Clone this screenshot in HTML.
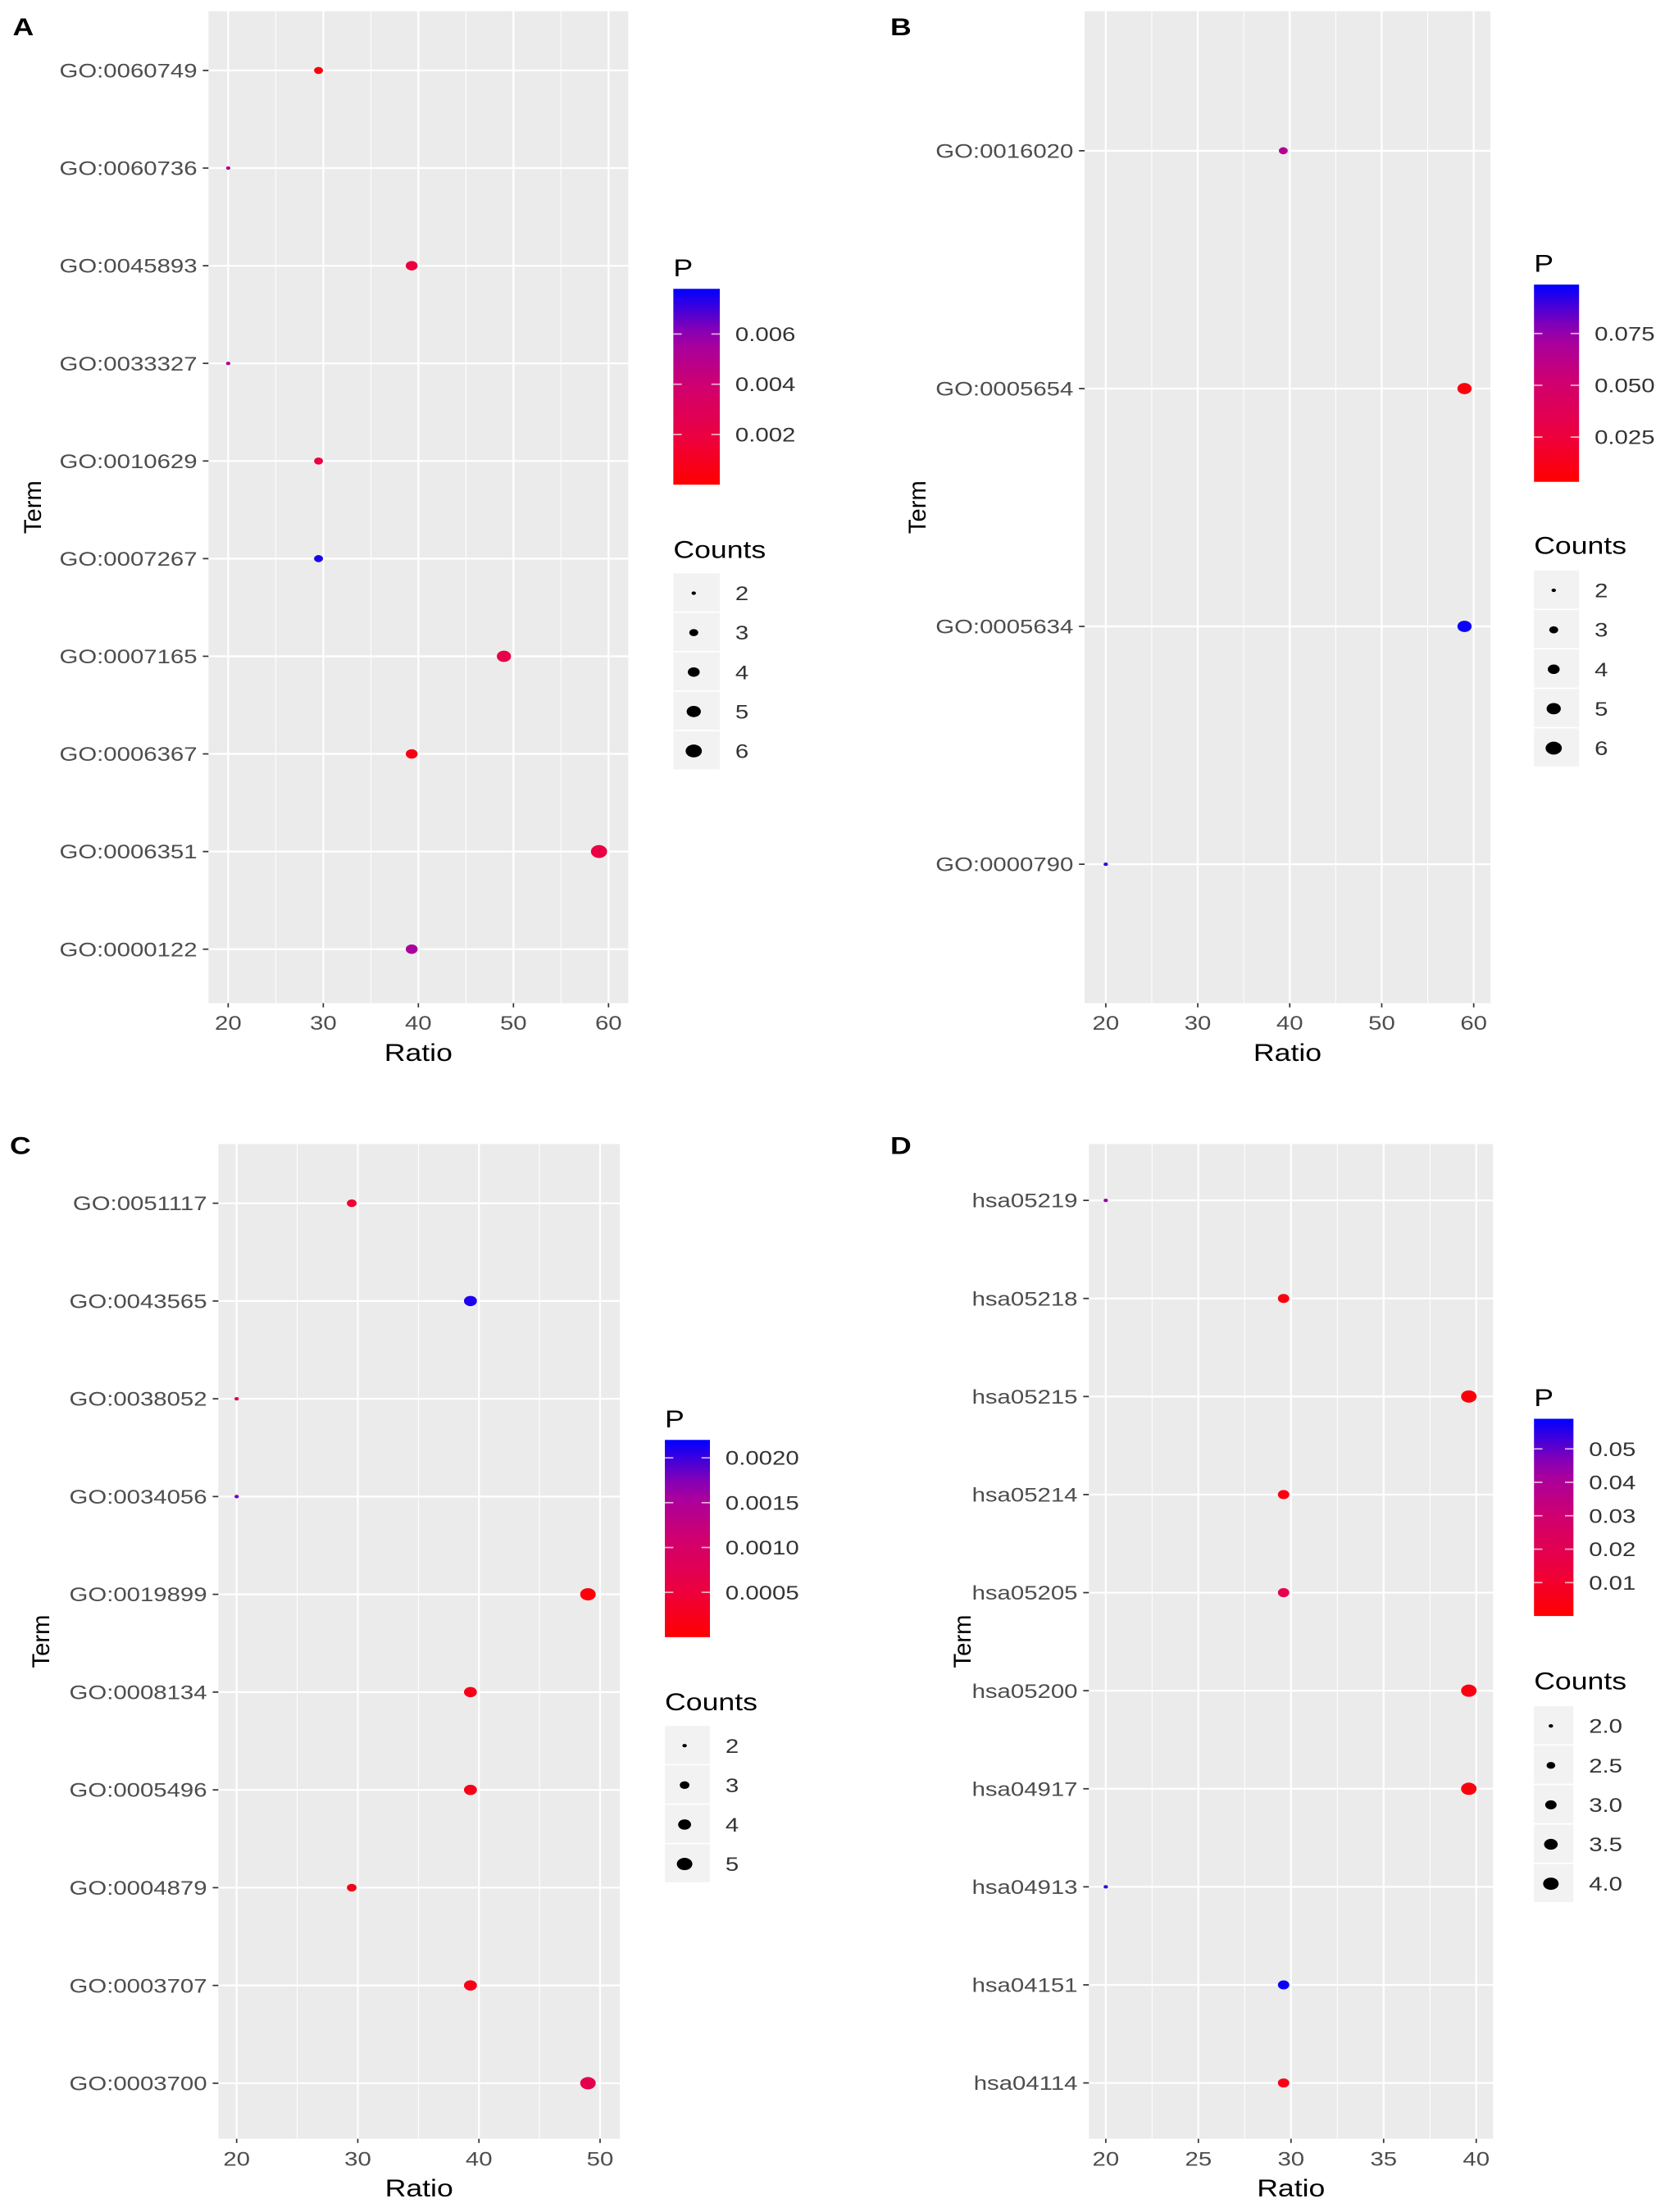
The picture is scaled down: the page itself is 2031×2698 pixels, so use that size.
<!DOCTYPE html>
<html><head><meta charset="utf-8">
<style>
html,body{margin:0;padding:0;background:#fff;}
svg{display:block;}
text{font-family:"Liberation Sans",Arial,sans-serif;}
</style></head>
<body>
<svg id="fig" width="2031" height="2698" viewBox="0 0 1182 1570" preserveAspectRatio="none" xmlns="http://www.w3.org/2000/svg"></svg>
<script>
// ---- Panel A data ----
const termsA = ["GO:0060749","GO:0060736","GO:0045893","GO:0033327","GO:0010629","GO:0007267","GO:0007165","GO:0006367","GO:0006351","GO:0000122"];
const ratioA = [29.5,20,39.3,20,29.5,29.5,49,39.3,59,39.3];
const countA = [3,2,4,2,3,3,5,4,6,4];
const pA = [0.0004,0.0050,0.0018,0.0052,0.0020,0.0075,0.0022,0.0006,0.0020,0.0055];
const xTicksA = [20,30,40,50,60];
const pTicksA = [0.002,0.004,0.006];
const pTickLabelsA = ["0.002","0.004","0.006"];
const countKeysA = [2,3,4,5,6];
const countKeyLabelsA = ["2","3","4","5","6"];
// ---- Panel B data ----
const termsB = ["GO:0016020","GO:0005654","GO:0005634","GO:0000790"];
const ratioB = [39.3,59,59,20];
const countB = [3,5,5,2];
const pB = [0.065,0.008,0.097,0.090];
const xTicksB = [20,30,40,50,60];
const pTicksB = [0.025,0.050,0.075];
const pTickLabelsB = ["0.025","0.050","0.075"];
const countKeysB = [2,3,4,5,6];
const countKeyLabelsB = ["2","3","4","5","6"];
// ---- Panel C data ----
const termsC = ["GO:0051117","GO:0043565","GO:0038052","GO:0034056","GO:0019899","GO:0008134","GO:0005496","GO:0004879","GO:0003707","GO:0003700"];
const ratioC = [29.5,39.3,20,20,49,39.3,39.3,29.5,39.3,49];
const countC = [3,4,2,2,5,4,4,3,4,5];
const pC = [0.0004,0.0021,0.0009,0.0018,0.0001,0.0002,0.0002,0.0002,0.0002,0.0007];
const xTicksC = [20,30,40,50];
const pTicksC = [0.0005,0.0010,0.0015,0.0020];
const pTickLabelsC = ["0.0005","0.0010","0.0015","0.0020"];
const countKeysC = [2,3,4,5];
const countKeyLabelsC = ["2","3","4","5"];
// ---- Panel D data ----
const termsD = ["hsa05219","hsa05218","hsa05215","hsa05214","hsa05205","hsa05200","hsa04917","hsa04913","hsa04151","hsa04114"];
const ratioD = [20,29.6,39.6,29.6,29.6,39.6,39.6,20,29.6,29.6];
const countD = [2,3,4,3,3,4,4,2,3,3];
const pD = [0.045,0.003,0.002,0.003,0.018,0.004,0.003,0.054,0.058,0.005];
const xTicksD = [20,25,30,35,40];
const pTicksD = [0.01,0.02,0.03,0.04,0.05];
const pTickLabelsD = ["0.01","0.02","0.03","0.04","0.05"];
const countKeysD = [2,2.5,3,3.5,4];
const countKeyLabelsD = ["2.0","2.5","3.0","3.5","4.0"];

const NS = "http://www.w3.org/2000/svg";
const svg = document.getElementById("fig");
const SX = 1.22;
function el(tag, attrs, parent){
  const e = document.createElementNS(NS, tag);
  for (const k in attrs) e.setAttribute(k, attrs[k]);
  if (tag === "text" && !attrs.transform) {
    const x = attrs.x;
    e.setAttribute("transform", "translate(" + x + ",0) scale(" + SX + ",1) translate(" + (-x) + ",0)");
  }
  (parent||svg).appendChild(e);
  return e;
}
const stops = [[255,0,0],[236,0,66],[208,0,110],[160,0,168],[0,0,255]];
function pColor(t){
  t = Math.max(0, Math.min(1, t));
  const f = t*(stops.length-1), i = Math.min(stops.length-2, Math.floor(f)), u = f - i;
  const a = stops[i], b = stops[i+1];
  return "rgb(" + a.map((v,k)=>Math.round(v+(b[k]-v)*u)).join(",") + ")";
}

function panel(letter, L, terms, ratios, counts, ps, xTicks, pTicks, pTickLabels, cKeys, cKeyLabels){
  const g = el("g", {});
  
  
  const xs = v => L.x20 + (v - L.xv0) * L.xpu;
  const ys = i => L.y0 + i * L.dy;
  const rs = c => Math.sqrt(L.rmin*L.rmin + (L.rmax*L.rmax - L.rmin*L.rmin) * (c - L.cmin) / (L.cmax - L.cmin));
  const pt = p => (p - L.pmin) / (L.pmax - L.pmin);
  const lbl = el("text", {x:L.lx, y:L.ly, "font-size":17, "font-weight":"bold", fill:"#000"}, g);
  lbl.textContent = letter;
  
  
  const bg = el("rect", {x:L.px, y:L.py, width:L.pw, height:L.ph, fill:"#ebebeb"}, g);
  
  
  for (let k = 0; k < xTicks.length + 1; k++) {
    const step = xTicks[1] - xTicks[0];
    const v = xTicks[0] - step/2 + k*step;
    const x = xs(v);
    if (x > L.px && x < L.px + L.pw) {
      const m = el("line", {x1:x, x2:x, y1:L.py, y2:L.py+L.ph, stroke:"#fff", "stroke-width":0.6}, g);
      
      
    }
  }
  xTicks.forEach(v => {
    const x = xs(v);
    const gl = el("line", {x1:x, x2:x, y1:L.py, y2:L.py+L.ph, stroke:"#fff", "stroke-width":1.3}, g);
    
    
    el("line", {x1:x, x2:x, y1:L.py+L.ph, y2:L.py+L.ph+3, stroke:"#333", "stroke-width":1}, g);
    const t = el("text", {x:x, y:L.py+L.ph+19, "font-size":14, fill:"#4d4d4d", "text-anchor":"middle"}, g);
    t.textContent = v;
    
    
  });
  terms.forEach((term, i) => {
    const y = ys(i);
    const gl = el("line", {x1:L.px, x2:L.px+L.pw, y1:y, y2:y, stroke:"#fff", "stroke-width":1.3}, g);
    
    
    el("line", {x1:L.px-4, x2:L.px, y1:y, y2:y, stroke:"#333", "stroke-width":1}, g);
    const t = el("text", {x:L.px-8, y:y+5, "font-size":14, fill:"#4d4d4d", "text-anchor":"end"}, g);
    t.textContent = term;
    
    
  });
  terms.forEach((term, i) => {
    const r = rs(counts[i]);
    const d = el("ellipse", {cx:xs(ratios[i]), cy:ys(i), rx:r*1.2, ry:r*0.95, fill:pColor(pt(ps[i]))}, g);
    
    
  });
  const xt = el("text", {x:L.px+L.pw/2, y:L.py+L.ph+41, "font-size":17, fill:"#000", "text-anchor":"middle"}, g);
  xt.textContent = "Ratio";
  
  
  const yt = el("text", {x:0, y:0, "font-size":17, fill:"#000", "text-anchor":"middle", transform:"translate(" + (L.tx) + "," + (L.py+L.ph/2) + ") rotate(-90)"}, g);
  yt.textContent = "Term";
  
  
  const gid = "grad" + letter;
  const defs = el("defs", {}, g);
  const lg = el("linearGradient", {id:gid, x1:0, y1:1, x2:0, y2:0}, defs);
  for (let k = 0; k <= 10; k++) el("stop", {offset:(k/10), "stop-color":pColor(k/10)}, lg);
  const pTitle = el("text", {x:L.cbx, y:L.cby-9, "font-size":17, fill:"#000"}, g);
  pTitle.textContent = "P";
  
  
  const cb = el("rect", {x:L.cbx, y:L.cby, width:L.cbw, height:L.cbh, fill:"url(#" + gid + ")"}, g);
  
  
  const cy = p => L.cby + L.cbh * (1 - pt(p));
  pTicks.forEach((p, k) => {
    const y = cy(p);
    el("line", {x1:L.cbx, x2:L.cbx+6, y1:y, y2:y, stroke:"#fff", "stroke-width":1, opacity:0.7}, g);
    el("line", {x1:L.cbx+L.cbw-6, x2:L.cbx+L.cbw, y1:y, y2:y, stroke:"#fff", "stroke-width":1, opacity:0.7}, g);
    const t = el("text", {x:L.cbx+L.cbw+11, y:y+5, "font-size":14, fill:"#333"}, g);
    t.textContent = pTickLabels[k];
    
    
  });
  const cTitle = el("text", {x:L.cbx, y:L.cty, "font-size":17, fill:"#000"}, g);
  cTitle.textContent = "Counts";
  
  
  cKeys.forEach((c, k) => {
    const y = L.cky + k * 28;
    el("rect", {x:L.cbx, y:y-14, width:L.cbw, height:27, fill:"#f2f2f2"}, g);
    const r = rs(c);
    const d = el("ellipse", {cx:L.cbx+L.cbw/2-2, cy:y, rx:r*1.2, ry:r*0.95, fill:"#000"}, g);
    
    
    const t = el("text", {x:L.cbx+L.cbw+11, y:y+5, "font-size":14, fill:"#333"}, g);
    t.textContent = cKeyLabels[k];
    
    
  });
}

panel("A", {lx:9, ly:25, px:148, py:8, pw:298, ph:704, x20:162, xv0:20, xpu:6.75, y0:50, dy:69.3, tx:29,
  rmin:1.3, rmax:4.8, cmin:2, cmax:6, pmin:0, pmax:0.0078, cbx:478, cby:205, cbw:33, cbh:139, cty:396, cky:421},
  termsA, ratioA, countA, pA, xTicksA, pTicksA, pTickLabelsA, countKeysA, countKeyLabelsA);
panel("B", {lx:632, ly:25, px:770, py:8, pw:288, ph:704, x20:785, xv0:20, xpu:6.53, y0:107, dy:168.8, tx:657,
  rmin:1.3, rmax:4.8, cmin:2, cmax:6, pmin:0.0034, pmax:0.0986, cbx:1089, cby:202, cbw:32, cbh:140, cty:393, cky:419},
  termsB, ratioB, countB, pB, xTicksB, pTicksB, pTickLabelsB, countKeysB, countKeyLabelsB);
panel("C", {lx:7, ly:819, px:155, py:812, pw:285, ph:706, x20:168, xv0:20, xpu:8.6, y0:854, dy:69.4, tx:35,
  rmin:1.3, rmax:4.6, cmin:2, cmax:5, pmin:0, pmax:0.0022, cbx:472, cby:1022, cbw:32, cbh:140, cty:1214, cky:1239},
  termsC, ratioC, countC, pC, xTicksC, pTicksC, pTickLabelsC, countKeysC, countKeyLabelsC);
panel("D", {lx:632, ly:819, px:773, py:812, pw:287, ph:706, x20:785, xv0:20, xpu:13.15, y0:852, dy:69.6, tx:689,
  rmin:1.3, rmax:4.6, cmin:2, cmax:4, pmin:0, pmax:0.059, cbx:1089, cby:1007, cbw:28, cbh:140, cty:1199, cky:1225},
  termsD, ratioD, countD, pD, xTicksD, pTicksD, pTickLabelsD, countKeysD, countKeyLabelsD);
</script>
</body></html>
